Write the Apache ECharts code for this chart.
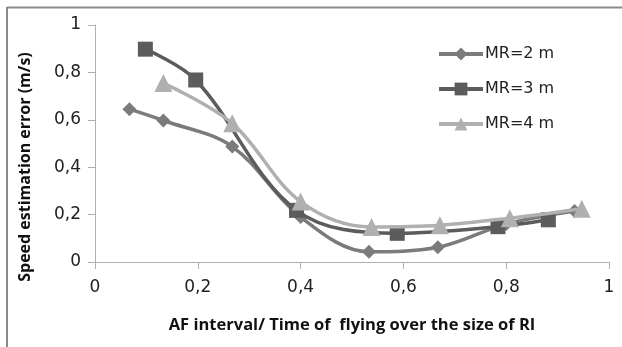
<!DOCTYPE html>
<html><head><meta charset="utf-8">
<script src="https://cdn.jsdelivr.net/npm/echarts@6/dist/echarts.min.js"></script>
<style>html,body{margin:0;padding:0;background:#fff}#c{width:622px;height:347px}</style>
</head><body><div id="c"></div>
<script>
var seriesNames = ['MR=2 m', 'MR=3 m', 'MR=4 m'];
var mr2X = [0.067, 0.133, 0.267, 0.4, 0.533, 0.667, 0.8, 0.933];
var mr2Y = [0.645, 0.597, 0.487, 0.19, 0.043, 0.062, 0.16, 0.215];
var mr3X = [0.098, 0.196, 0.392, 0.588, 0.784, 0.882];
var mr3Y = [0.898, 0.768, 0.218, 0.121, 0.149, 0.178];
var mr4X = [0.133, 0.267, 0.4, 0.538, 0.671, 0.807, 0.947];
var mr4Y = [0.755, 0.585, 0.255, 0.148, 0.155, 0.185, 0.225];
var xTicks = [0, 0.2, 0.4, 0.6, 0.8, 1];
var yTicks = [0, 0.2, 0.4, 0.6, 0.8, 1];
var xTitle = 'AF interval/ Time of  flying over the size of RI';
var yTitle = 'Speed estimation error (m/s)';

function pairs(xs, ys){ return xs.map(function(x,i){return [x, ys[i]];}); }
function fmt(v){ return String(v).replace('.', ','); }
var colors = ['#7b7b7b', '#5c5c5c', '#b0b0b0'];
var symbols = ['diamond', 'rect', 'triangle'];
var sizes = [14, 15, 18];
var datas = [pairs(mr2X, mr2Y), pairs(mr3X, mr3Y), pairs(mr4X, mr4Y)];
var FONT = 'Open Sans';
var TICKFONT = 'DejaVu Sans';
var chart = echarts.init(document.getElementById('c'));
chart.setOption({
  animation: false,
  textStyle: {fontFamily: FONT},
  grid: {left: 95, right: 13, top: 25, bottom: 85},
  graphic: [
    {type: 'line', shape: {x1: 7, y1: 7.5, x2: 622, y2: 7.5}, style: {stroke: '#8a8a8a', lineWidth: 2}},
    {type: 'line', shape: {x1: 7, y1: 7, x2: 7, y2: 347}, style: {stroke: '#8a8a8a', lineWidth: 2}},
    {type: 'text', x: 25, y: 167, rotation: Math.PI / 2,
      style: {text: yTitle, fontFamily: FONT, fontWeight: 'bold', fontSize: 16, fill: '#111',
        align: 'center', verticalAlign: 'middle'}}
  ],
  legend: {
    orient: 'vertical', left: 432, top: 41, itemWidth: 44, itemHeight: 16, itemGap: 19,
    data: seriesNames,
    lineStyle: {width: 4},
    textStyle: {fontFamily: TICKFONT, fontSize: 16, lineHeight: 16, color: '#222', padding: [0,0,0,-3]}
  },
  xAxis: {
    type: 'value', min: 0, max: 1, interval: 0.2,
    name: xTitle, nameLocation: 'middle', nameGap: 55,
    nameTextStyle: {fontFamily: FONT, fontWeight: 'bold', fontSize: 16.5, color: '#111'},
    axisLine: {show: true, lineStyle: {color: '#b0b0b0', width: 1}},
    axisTick: {show: true, length: 7, lineStyle: {color: '#b0b0b0'}},
    axisLabel: {formatter: fmt, fontFamily: TICKFONT, fontSize: 17, color: '#222', margin: 17,
      customValues: xTicks},
    splitLine: {show: false}
  },
  yAxis: {
    type: 'value', min: 0, max: 1, interval: 0.2,
    axisLine: {show: true, lineStyle: {color: '#b0b0b0', width: 1}},
    axisTick: {show: true, length: 7, lineStyle: {color: '#b0b0b0'}},
    axisLabel: {formatter: fmt, fontFamily: TICKFONT, fontSize: 17, color: '#222', margin: 14,
      customValues: yTicks},
    splitLine: {show: false}
  },
  series: seriesNames.map(function(n, i){
    return {
      name: n, type: 'line', data: datas[i], smooth: 0.35,
      symbol: symbols[i], symbolSize: sizes[i],
      lineStyle: {color: colors[i], width: 3.5},
      itemStyle: {color: colors[i]},
      z: i === 2 ? 3 : (i === 1 ? 2 : 1)
    };
  })
});
</script></body></html>
